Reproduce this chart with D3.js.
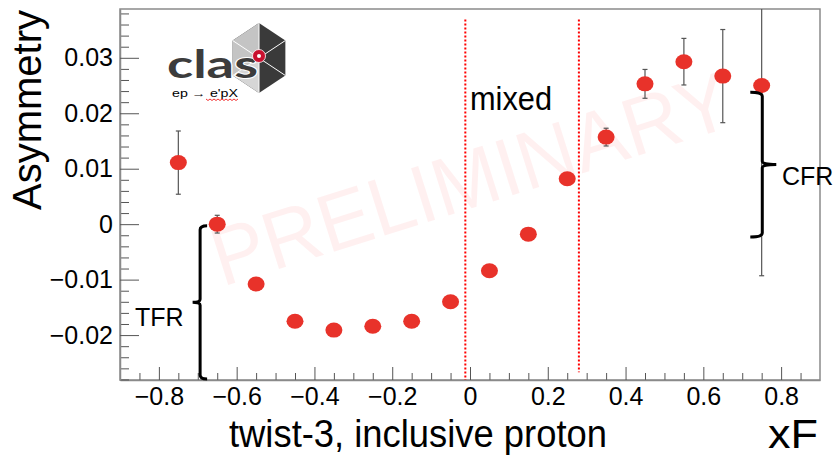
<!DOCTYPE html>
<html><head><meta charset="utf-8">
<script src="https://cdn.jsdelivr.net/npm/d3@7"></script>
<style>
html,body{margin:0;padding:0;background:#fff;}
svg{display:block;font-family:"Liberation Sans",Arial,Helvetica,sans-serif;}
</style>
</head><body>
<svg id="chart" width="836" height="457"></svg>
<script>
// Single-spin asymmetry vs xF, twist-3 inclusive proton
const xF        = [-0.75, -0.65, -0.55, -0.45, -0.35, -0.25, -0.15, -0.05, 0.05, 0.15, 0.25, 0.35, 0.45, 0.55, 0.65, 0.75];
const asymmetry = [0.0111, 0.0000, -0.0108, -0.0175, -0.0191, -0.0184, -0.0175, -0.0140, -0.0084, -0.0018, 0.0082, 0.0157, 0.0253, 0.0293, 0.0267, 0.0250];
const asymErr   = [0.0057, 0.0016, 0.0008, 0.0008, 0.0008, 0.0008, 0.0008, 0.0008, 0.0008, 0.0008, 0.0008, 0.0016, 0.0026, 0.0042, 0.0084, 0.0343];

const xTicks = [-0.8, -0.6, -0.4, -0.2, 0, 0.2, 0.4, 0.6, 0.8];
const yTicks = [-0.02, -0.01, 0, 0.01, 0.02, 0.03];

// kinematic region boundaries (xF) and their vertical extent
const regionBounds = [-0.012, 0.28];
const regionTop = 0.0369;
const regionBottom = [-0.0281, -0.0267];

// region braces: xF position, asymmetry span
const tfrBrace = {label: "TFR", x: -0.694, span: [-0.0279, -0.0003]};
const cfrBrace = {label: "CFR", x: 0.7516, span: [-0.0023, 0.0238]};

const svg = d3.select("#chart");
const W = 836, H = 457;
const frame = {left: 120, right: 820, top: 9, bottom: 380};

const x = d3.scaleLinear().domain([-0.9, 0.9]).range([frame.left, frame.right]);
const y = d3.scaleLinear().domain([-0.0281, 0.0388]).range([frame.bottom, frame.top]);

svg.append("rect").attr("width", W).attr("height", H).attr("fill", "#fff");

svg.append("defs").append("clipPath").attr("id", "plotclip")
  .append("rect").attr("x", frame.left).attr("y", frame.top)
  .attr("width", frame.right - frame.left).attr("height", frame.bottom - frame.top);

// PRELIMINARY watermark
svg.append("text")
  .attr("transform", `translate(222,287) rotate(-17.5)`)
  .attr("font-size", 82)
  .attr("fill", "#ff0000").attr("fill-opacity", 0.06)
  .attr("textLength", 540).attr("lengthAdjust", "spacingAndGlyphs")
  .text("PRELIMINARY");

// frame
svg.append("rect")
  .attr("x", frame.left).attr("y", frame.top)
  .attr("width", frame.right - frame.left).attr("height", frame.bottom - frame.top)
  .attr("fill", "none").attr("stroke", "#8a8a8a").attr("stroke-width", 1.5);

const minus = s => s.replace("-", "\u2013");

// x axis: major + minor ticks pointing into the frame
const xMinor = d3.range(-0.85, 0.851, 0.05).map(v => +v.toFixed(2)).filter(v => !xTicks.some(t => Math.abs(t - v) < 1e-6));
const gx = svg.append("g").attr("transform", `translate(0,${frame.bottom})`);
gx.call(d3.axisBottom(x).tickValues(xMinor).tickSize(-7).tickFormat(""));
gx.select(".domain").remove();
gx.selectAll(".tick line").attr("stroke", "#555");
const gx2 = svg.append("g").attr("transform", `translate(0,${frame.bottom})`);
gx2.call(d3.axisBottom(x).tickValues(xTicks).tickSizeInner(-13).tickSizeOuter(0).tickPadding(7)
  .tickFormat(d => minus(d3.format("")(d))));
gx2.select(".domain").attr("stroke", "#8a8a8a").attr("stroke-width", 1.5);
gx2.selectAll(".tick line").attr("stroke", "#555");
gx2.selectAll(".tick text").attr("font-family", "'Liberation Sans',Arial,sans-serif").attr("font-size", 25).attr("fill", "#000");

// y axis
const yMinor = d3.range(-0.028, 0.0385, 0.002).map(v => +v.toFixed(3)).filter(v => !yTicks.some(t => Math.abs(t - v) < 1e-6));
const gy = svg.append("g").attr("transform", `translate(${frame.left},0)`);
gy.call(d3.axisLeft(y).tickValues(yMinor).tickSize(-9).tickFormat(""));
gy.select(".domain").remove();
gy.selectAll(".tick line").attr("stroke", "#555");
const gy2 = svg.append("g").attr("transform", `translate(${frame.left},0)`);
gy2.call(d3.axisLeft(y).tickValues(yTicks).tickSizeInner(-19).tickSizeOuter(0).tickPadding(7)
  .tickFormat(d => d === 0 ? "0" : minus(d3.format(".2f")(d))));
gy2.select(".domain").attr("stroke", "#8a8a8a").attr("stroke-width", 1.5);
gy2.selectAll(".tick line").attr("stroke", "#555");
gy2.selectAll(".tick text").attr("font-family", "'Liberation Sans',Arial,sans-serif").attr("font-size", 25).attr("fill", "#000");

// region boundaries (dotted red)
const plot = svg.append("g").attr("clip-path", "url(#plotclip)");
plot.selectAll("line.bound").data(regionBounds).join("line").attr("class", "bound")
  .attr("x1", d => x(d)).attr("x2", d => x(d))
  .attr("y1", y(regionTop)).attr("y2", (d, i) => y(regionBottom[i]))
  .attr("stroke", "#ff0000").attr("stroke-width", 2).attr("stroke-dasharray", "2,2");

// braces
function brace(b, hook, cusp) {
  const x0 = x(b.x), yT = y(b.span[1]), yB = y(b.span[0]), yM = (yT + yB) / 2;
  const p = d3.path();
  p.moveTo(x0 + hook, yT);
  p.quadraticCurveTo(x0, yT, x0, yT + 4);
  p.lineTo(x0, yM - 3);
  p.quadraticCurveTo(x0, yM, x0 + cusp, yM);
  p.quadraticCurveTo(x0, yM, x0, yM + 3);
  p.lineTo(x0, yB - 4);
  p.quadraticCurveTo(x0, yB, x0 + hook, yB);
  return p.toString();
}
svg.append("path").attr("d", brace(tfrBrace, 7, -7.5))
  .attr("fill", "none").attr("stroke", "#000").attr("stroke-width", 3);
svg.append("path").attr("d", brace(cfrBrace, -12, 14))
  .attr("fill", "none").attr("stroke", "#000").attr("stroke-width", 3);

// error bars
const pts = xF.map((v, i) => ({x: v, y: asymmetry[i], e: asymErr[i]}));
const eb = plot.append("g").attr("stroke", "#555").attr("stroke-width", 1.2);
eb.selectAll("line.bar").data(pts).join("line").attr("class", "bar")
  .attr("x1", d => x(d.x)).attr("x2", d => x(d.x))
  .attr("y1", d => y(d.y + d.e)).attr("y2", d => y(d.y - d.e));
eb.selectAll("line.capt").data(pts).join("line").attr("class", "capt")
  .attr("x1", d => x(d.x) - 2.5).attr("x2", d => x(d.x) + 2.5)
  .attr("y1", d => y(d.y + d.e)).attr("y2", d => y(d.y + d.e));
eb.selectAll("line.capb").data(pts).join("line").attr("class", "capb")
  .attr("x1", d => x(d.x) - 2.5).attr("x2", d => x(d.x) + 2.5)
  .attr("y1", d => y(d.y - d.e)).attr("y2", d => y(d.y - d.e));

// markers
plot.selectAll("ellipse.pt").data(pts).join("ellipse").attr("class", "pt")
  .attr("cx", d => x(d.x)).attr("cy", d => y(d.y))
  .attr("rx", 8.5).attr("ry", 7.5).attr("fill", "#e8322a");

// labels
svg.append("text").attr("x", 470).attr("y", 110).attr("font-size", 34)
  .attr("textLength", 82).attr("lengthAdjust", "spacingAndGlyphs").text("mixed");
svg.append("text").attr("x", 135).attr("y", 326).attr("font-size", 25).text(tfrBrace.label);
svg.append("text").attr("x", 782).attr("y", 185).attr("font-size", 25).text(cfrBrace.label);

svg.append("text").attr("transform", "translate(41,210) rotate(-90)")
  .attr("font-size", 40).attr("textLength", 200).attr("lengthAdjust", "spacingAndGlyphs").text("Asymmetry");
svg.append("text").attr("x", 229).attr("y", 447).attr("font-size", 38)
  .attr("textLength", 378).attr("lengthAdjust", "spacingAndGlyphs").text("twist-3, inclusive proton");
svg.append("text").attr("x", 818).attr("y", 448).attr("text-anchor", "end").attr("font-size", 40)
  .attr("textLength", 50).attr("lengthAdjust", "spacingAndGlyphs").text("xF");

// CLAS logo
const logo = svg.append("g");
const hx = 259, hy = 58, hr = 35;
const hexPts = d3.range(6).map(k => {
  const a = Math.PI / 180 * (60 * k - 90);
  return [hx + hr * 0.87 * Math.cos(a), hy + hr * Math.sin(a)];
});
const poly = arr => arr.map(p => p.join(",")).join(" ");
logo.append("polygon").attr("points", poly(hexPts)).attr("fill", "#3a3a3a");
logo.append("polygon").attr("points", poly([[hx, hy], hexPts[4], hexPts[5], hexPts[0]])).attr("fill", "#c4c4c4");
logo.append("polygon").attr("points", poly([[hx, hy], hexPts[3], hexPts[4]])).attr("fill", "#d6d6d6");
hexPts.forEach(p => logo.append("line").attr("x1", hx).attr("y1", hy).attr("x2", p[0]).attr("y2", p[1])
  .attr("stroke", "#fff").attr("stroke-width", 1));
logo.append("text").attr("x", 167).attr("y", 78).attr("font-family", "Lato,'DejaVu Sans',sans-serif")
  .attr("font-weight", "bold")
  .attr("font-size", 39).attr("fill", "#3c3c3c").attr("stroke", "#fff").attr("stroke-width", 2)
  .attr("paint-order", "stroke").attr("textLength", 91).attr("lengthAdjust", "spacingAndGlyphs").text("clas");
logo.append("circle").attr("cx", hx).attr("cy", hy - 2).attr("r", 6.5).attr("fill", "#c8102e").attr("stroke", "#fff").attr("stroke-width", 0.8);
logo.append("circle").attr("cx", hx).attr("cy", hy - 2).attr("r", 2).attr("fill", "#fff");
logo.append("text").attr("x", 172).attr("y", 97).attr("font-size", 11).attr("fill", "#000")
  .attr("textLength", 66).attr("lengthAdjust", "spacingAndGlyphs").text("ep \u2192 e'pX");
logo.append("path").attr("d", d3.range(0, 33, 2).map((d, i) => (i ? "L" : "M") + (206 + d) + "," + (99.5 + (i % 2 ? 1 : -0.5))).join(""))
  .attr("fill", "none").attr("stroke", "#e00").attr("stroke-width", 0.8);
</script>
</body></html>
